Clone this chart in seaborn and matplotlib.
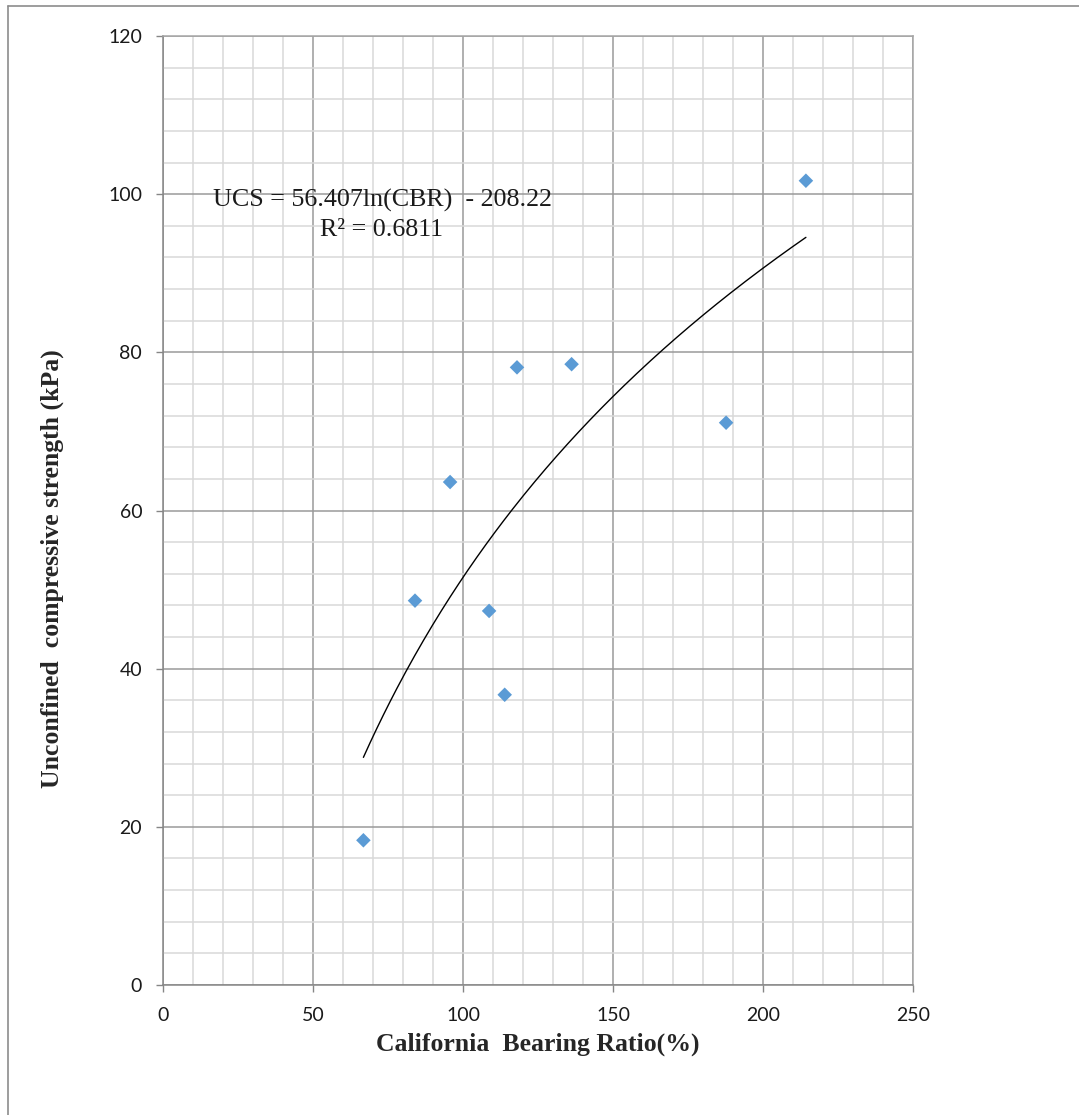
import matplotlib
matplotlib.use("Agg")
import matplotlib.pyplot as plt
from matplotlib.lines import Line2D
from matplotlib.ticker import MultipleLocator
import numpy as np
import pandas as pd
import seaborn as sns

# values
cbr = [66.8, 84.0, 95.7, 108.7, 113.9, 118.0, 136.2, 187.7, 214.3]
ucs = [18.3, 48.6, 63.6, 47.3, 36.7, 78.1, 78.5, 71.1, 101.7]
fit_a, fit_b = 56.407, -208.22
eq_text = "UCS = 56.407ln(CBR)  - 208.22\nR² = 0.6811"

df = pd.DataFrame({"CBR": cbr, "UCS": ucs})
xs = np.linspace(min(cbr), max(cbr), 200)
trend = pd.DataFrame({"CBR": xs, "UCS": fit_a * np.log(xs) + fit_b})

sns.set_style("white")
serif = "Liberation Serif"
sans = "Lato"

fig = plt.figure(figsize=(10.79, 11.15), dpi=100)
ax = fig.add_axes([163 / 1079, 130 / 1115, 750 / 1079, 949 / 1115])

sns.lineplot(x="CBR", y="UCS", data=trend, ax=ax, color="black", lw=1, zorder=3)
sns.scatterplot(x="CBR", y="UCS", data=df, ax=ax, marker="D", s=55,
                color="#5b9bd5", edgecolor="none", zorder=4)

ax.set(xlim=(0, 250), ylim=(0, 120))
ax.xaxis.set_major_locator(MultipleLocator(50))
ax.xaxis.set_minor_locator(MultipleLocator(10))
ax.yaxis.set_major_locator(MultipleLocator(20))
ax.yaxis.set_minor_locator(MultipleLocator(4))
ax.grid(which="major", color="#9a9a9a", lw=1.1)
ax.grid(which="minor", color="#d9d9d9", lw=1.1)
ax.set_axisbelow(True)

for s in ax.spines.values():
    s.set_color("#a6a6a6")
    s.set_linewidth(1.1)
ax.spines["left"].set_color("#868686")
ax.spines["bottom"].set_color("#868686")

ax.tick_params(which="major", direction="out", length=5, width=1,
               color="#868686", labelsize=14, labelcolor="#1a1a1a")
ax.tick_params(axis="x", which="major", pad=11, bottom=True)
ax.tick_params(axis="y", which="major", pad=10, left=True)
ax.tick_params(which="minor", length=0)
for lab in ax.get_xticklabels() + ax.get_yticklabels():
    lab.set_family(sans)

ax.set_xlabel("California  Bearing Ratio(%)", family=serif, weight="bold",
              fontsize=18.5, va="center")
ax.xaxis.set_label_coords(0.5, -0.063)
ax.set_ylabel("Unconfined  compressive strength (kPa)", family=serif,
              weight="bold", fontsize=18.5, va="center")
ax.yaxis.set_label_coords(-0.148, 0.439)

ax.text(73, 97.35, eq_text, family=serif, fontsize=18.7, ha="center",
        va="center", multialignment="center", linespacing=1.38,
        color="#1a1a1a", zorder=5)

# chart area border (cropped at right and bottom)
fig.add_artist(Line2D([8 / 1079, 8 / 1079], [0, 1 - 6 / 1115],
                      transform=fig.transFigure, color="#8c8c8c", lw=1.2))
fig.add_artist(Line2D([8 / 1079, 1], [1 - 6 / 1115, 1 - 6 / 1115],
                      transform=fig.transFigure, color="#8c8c8c", lw=1.2))

fig.savefig("out.png", dpi=100)
